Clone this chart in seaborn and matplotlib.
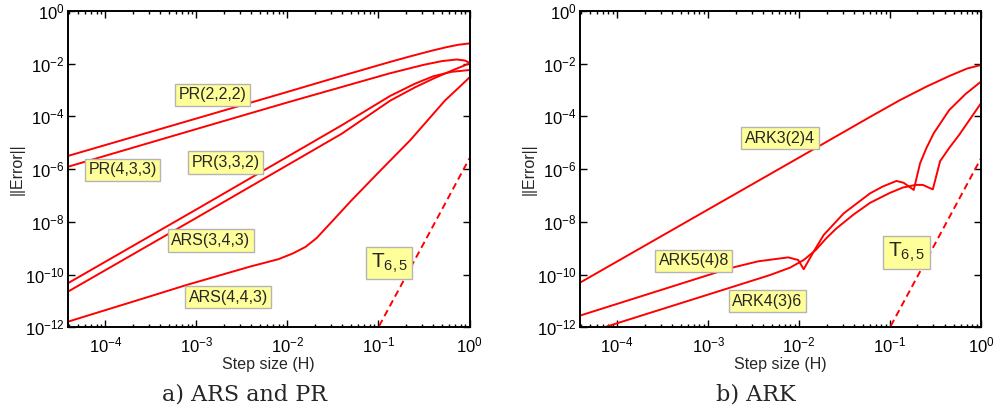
import numpy as np
import pandas as pd
import matplotlib
matplotlib.use("Agg")
import matplotlib.pyplot as plt
import matplotlib.ticker as mticker
import seaborn as sns

# ---------------------------------------------------------------
# Error vs. step size, stored as base-10 exponents (log10 H, log10 ||E||)
# ---------------------------------------------------------------
# Panel a) ARS and PR schemes
pr222_logh = [-4.41, -3.0, -2.0, -1.53, -1.1, -0.87, -0.65, -0.43, -0.25, -0.12, 0.0]
pr222_loge = [-5.50, -4.08, -3.07, -2.59, -2.16, -1.93, -1.72, -1.52, -1.37, -1.28, -1.23]

pr433_logh = [-4.41, -3.0, -2.0, -1.4, -0.87, -0.5, -0.3, -0.14, -0.05, 0.0]
pr433_loge = [-5.91, -4.48, -3.47, -2.88, -2.36, -2.04, -1.90, -1.84, -1.88, -1.97]

pr332_logh = [-4.41, -3.0, -2.0, -1.4, -0.87, -0.6, -0.4, -0.2, 0.0]
pr332_loge = [-10.33, -7.53, -5.53, -4.33, -3.22, -2.76, -2.48, -2.31, -2.24]

ars343_logh = [-4.41, -3.0, -2.0, -1.4, -0.87, -0.6, -0.4, -0.2, 0.0]
ars343_loge = [-10.65, -7.85, -5.85, -4.65, -3.40, -2.90, -2.57, -2.27, -1.99]

ars443_logh = [-4.41, -3.5, -3.11, -2.41, -2.1, -1.94, -1.8, -1.68, -1.5, -1.3,
               -1.02, -0.65, -0.27, -0.1, 0.0]
ars443_loge = [-11.79, -10.82, -10.40, -9.70, -9.42, -9.20, -8.95, -8.62, -7.95, -7.20,
               -6.20, -4.90, -3.40, -2.85, -2.52]

t65_logh = [-1.05, -0.5, 0.0]
t65_loge = [-12.32, -8.80, -5.59]

# Panel b) ARK schemes
ark324_logh = [-4.41, -3.0, -2.0, -1.2, -0.89, -0.6, -0.35, -0.15, 0.0]
ark324_loge = [-10.31, -7.53, -5.56, -3.98, -3.38, -2.87, -2.47, -2.18, -2.05]

ark548_logh = [-4.41, -2.76, -2.45, -2.12, -2.01, -1.95, -1.84, -1.73, -1.51, -1.22,
               -1.08, -0.93, -0.85, -0.74, -0.67, -0.6, -0.52, -0.35, -0.17, 0.0]
ark548_loge = [-11.56, -9.76, -9.50, -9.35, -9.45, -9.80, -9.13, -8.50, -7.68, -6.92,
               -6.66, -6.45, -6.52, -6.79, -5.78, -5.20, -4.64, -3.76, -3.15, -2.68]

ark436_logh = [-4.41, -4.14, -2.76, -2.32, -2.1, -1.95, -1.82, -1.7, -1.59, -1.4,
               -1.22, -1.0, -0.86, -0.72, -0.64, -0.53, -0.45, -0.35, -0.24, -0.12, 0.0]
ark436_loge = [-12.30, -12.0, -10.50, -10.02, -9.74, -9.45, -9.08, -8.62, -8.25, -7.72,
               -7.28, -6.90, -6.70, -6.60, -6.60, -6.77, -5.70, -5.20, -4.70, -4.10, -3.50]

# label text, anchor (log10 H, log10 ||E||)
labels_a = [("PR(2,2,2)", -2.82, -3.18), ("PR(4,3,3)", -3.81, -6.03),
            ("PR(3,3,2)", -2.68, -5.75), ("ARS(3,4,3)", -2.84, -8.71),
            ("ARS(4,4,3)", -2.65, -10.87)]
labels_b = [("ARK3(2)4", -2.21, -4.83), ("ARK5(4)8", -3.16, -9.47),
            ("ARK4(3)6", -2.35, -11.02)]
t_label_a = (-0.88, -9.56)
t_label_b = (-0.82, -9.17)

captions = ["a) ARS and PR", "b) ARK"]

# ---------------------------------------------------------------
sns.set_style("ticks")
plt.rcParams["font.family"] = ["Liberation Sans", "DejaVu Sans"]
plt.rcParams["mathtext.fontset"] = "custom"
plt.rcParams["mathtext.rm"] = "Liberation Sans"
plt.rcParams["mathtext.it"] = "Liberation Sans:italic"

fig = plt.figure(figsize=(9.94, 4.13), dpi=100)
ax_a = fig.add_axes([68 / 994, 1 - 327.2 / 413, 401.5 / 994, 316.2 / 413])
ax_b = fig.add_axes([580 / 994, 1 - 327.2 / 413, 401.0 / 994, 316.2 / 413])

RED = "#ff0000"
box = dict(boxstyle="square,pad=0.22", facecolor="#ffff99",
           edgecolor="#b4b4b4", linewidth=1.0)


def draw(ax, logh, loge, dashed=False):
    df = pd.DataFrame({"H": 10.0 ** np.asarray(logh),
                       "err": 10.0 ** np.asarray(loge)})
    sns.lineplot(data=df, x="H", y="err", ax=ax, color=RED, lw=1.4,
                 estimator=None, sort=False,
                 linestyle=(0, (3.5, 2.2)) if dashed else "-")


draw(ax_a, pr222_logh, pr222_loge)
draw(ax_a, pr433_logh, pr433_loge)
draw(ax_a, pr332_logh, pr332_loge)
draw(ax_a, ars343_logh, ars343_loge)
draw(ax_a, ars443_logh, ars443_loge)
draw(ax_a, t65_logh, t65_loge, dashed=True)

draw(ax_b, ark324_logh, ark324_loge)
draw(ax_b, ark548_logh, ark548_loge)
draw(ax_b, ark436_logh, ark436_loge)
draw(ax_b, t65_logh, t65_loge, dashed=True)

for ax, labs, tpos in [(ax_a, labels_a, t_label_a), (ax_b, labels_b, t_label_b)]:
    for txt, lh, le in labs:
        ax.text(10 ** lh, 10 ** le, txt, fontsize=11.5, ha="center",
                va="center", bbox=box, zorder=5)
    ax.text(10 ** tpos[0], 10 ** tpos[1], r"T$_{\mathregular{6,5}}$",
            fontsize=15, ha="center", va="center", bbox=box, zorder=5)

    ax.set_xscale("log")
    ax.set_yscale("log")
    ax.set_xlim(10 ** -4.41, 1.0)
    ax.set_ylim(1e-12, 1.0)
    ax.yaxis.set_major_locator(mticker.FixedLocator([10.0 ** k for k in range(-12, 1, 2)]))
    ax.yaxis.set_minor_locator(mticker.NullLocator())
    ax.xaxis.set_major_locator(mticker.LogLocator(base=10, numticks=10))
    ax.xaxis.set_minor_locator(mticker.LogLocator(base=10, subs=np.arange(2, 10), numticks=20))
    ax.tick_params(which="both", direction="in", top=True, right=True,
                   width=1.0, colors="black")
    ax.tick_params(which="major", length=5, labelsize=12)
    ax.tick_params(axis="x", which="major", pad=6)
    ax.tick_params(axis="y", which="major", pad=2.5)
    ax.tick_params(which="minor", length=2.5)
    for s in ax.spines.values():
        s.set_linewidth(1.4)
        s.set_color("black")
    ax.set_xlabel("Step size (H)", fontsize=11.5, labelpad=1)
    ax.set_ylabel("||Error||", fontsize=11.5, labelpad=0)

fig.text(245 / 994, 1 - 395 / 413, captions[0], fontsize=16,
         family="DejaVu Serif", ha="center", va="center")
fig.text(756 / 994, 1 - 395 / 413, captions[1], fontsize=16,
         family="DejaVu Serif", ha="center", va="center")

fig.savefig("out.png", dpi=100)
